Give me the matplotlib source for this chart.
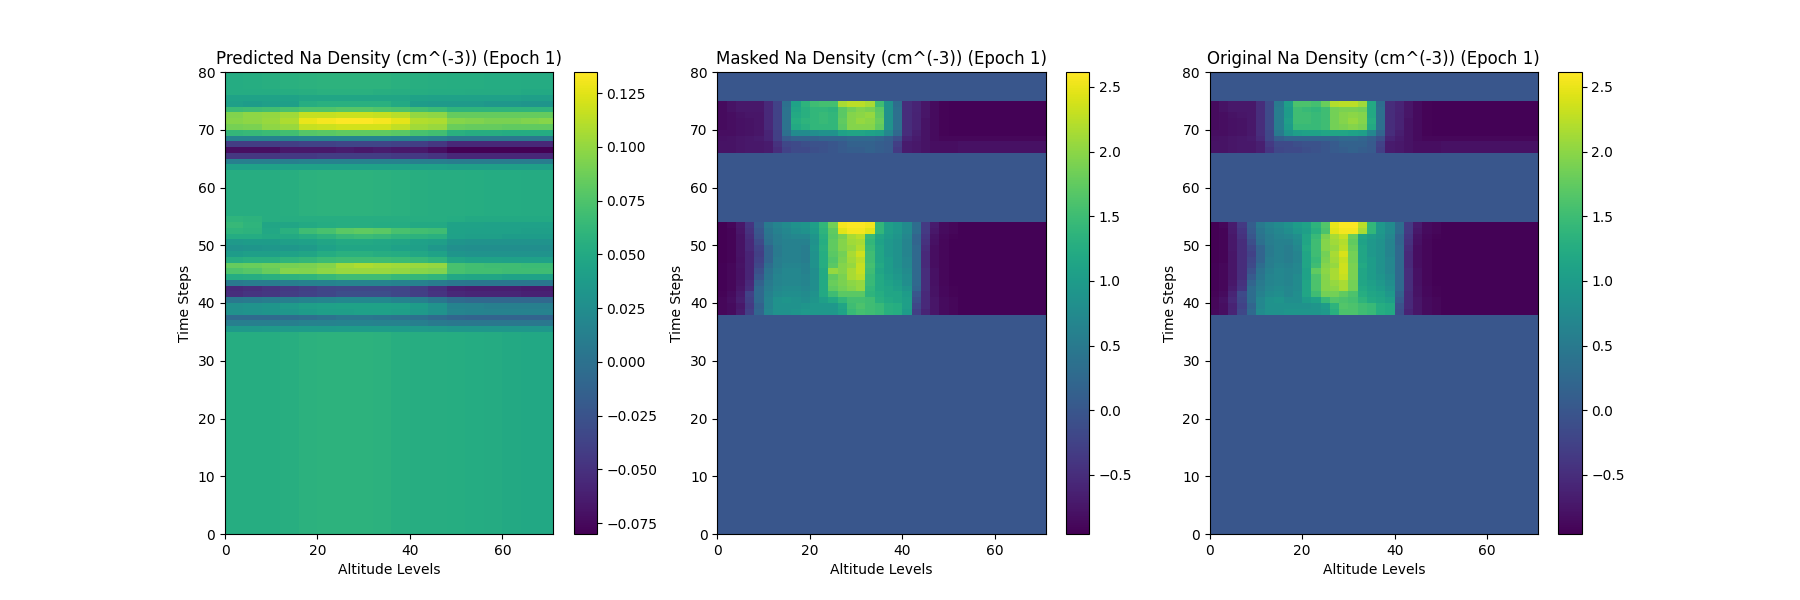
#!/usr/bin/env python3

import numpy as np
import matplotlib
matplotlib.use('Agg')
import matplotlib.pyplot as plt

N_ALT = 71
N_TIME = 80

# predicted panel, read in blocks of 4 altitude levels
pred_background = [.053, .053, .053, .055, .057, .058, .058, .058, .057, .055, .054, .054, .053, .052, .051, .050, .049, .049]
pred_low = [  # time steps 35..54, bottom to top
    [.035, .035, .036, .036, .037, .037, .038, .038, .038, .037, .036, .035, .034, .034, .034, .034, .034, .034],
    [.012, .012, .012, .012, .014, .015, .016, .016, .015, .014, .012, .008, .006, .006, .006, .006, .006, .006],
    [-.006, -.006, -.006, -.004, -.002, .002, .006, .006, .004, .002, .000, -.006, -.010, -.012, -.012, -.012, -.012, -.012],
    [.028, .030, .032, .034, .038, .040, .040, .042, .042, .040, .036, .030, .018, .016, .014, .014, .014, .014],
    [.028, .030, .032, .036, .040, .042, .044, .044, .044, .042, .038, .030, .016, .014, .012, .012, .012, .012],
    [.006, .008, .010, .012, .016, .018, .020, .020, .020, .016, .012, .004, -.006, -.008, -.008, -.008, -.008, -.008],
    [-.052, -.048, -.046, -.042, -.038, -.034, -.030, -.030, -.030, -.034, -.040, -.048, -.056, -.058, -.058, -.058, -.060, -.060],
    [-.054, -.052, -.048, -.044, -.040, -.036, -.034, -.034, -.034, -.036, -.042, -.050, -.060, -.062, -.062, -.062, -.064, -.064],
    [.008, .010, .010, .012, .014, .016, .018, .018, .018, .016, .014, .010, .006, .005, .005, .005, .005, .005],
    [.052, .054, .056, .058, .060, .064, .068, .068, .068, .064, .062, .060, .048, .046, .046, .044, .044, .044],
    [.075, .078, .085, .095, .094, .098, .102, .102, .102, .100, .096, .094, .072, .070, .070, .068, .068, .068],
    [.084, .086, .088, .090, .092, .095, .105, .108, .106, .104, .102, .100, .072, .070, .068, .068, .066, .066],
    [.054, .056, .056, .060, .062, .066, .068, .068, .068, .066, .064, .060, .046, .044, .044, .042, .042, .042],
    [.038, .040, .040, .044, .046, .052, .056, .056, .054, .052, .048, .044, .032, .030, .030, .030, .030, .030],
    [.030, .032, .034, .034, .036, .042, .046, .046, .046, .042, .040, .034, .026, .025, .025, .025, .025, .025],
    [.036, .038, .038, .040, .042, .046, .050, .050, .048, .046, .042, .040, .032, .030, .030, .030, .030, .030],
    [.052, .052, .050, .050, .054, .058, .064, .066, .064, .060, .058, .056, .042, .040, .040, .038, .038, .038],
    [.060, .058, .048, .056, .068, .072, .080, .082, .080, .072, .070, .068, .044, .042, .042, .042, .040, .040],
    [.064, .060, .046, .046, .050, .052, .054, .054, .052, .052, .050, .050, .044, .044, .042, .042, .042, .042],
    [.060, .058, .054, .054, .054, .054, .054, .054, .054, .054, .054, .054, .052, .050, .050, .050, .050, .050],
]
pred_gap = [.054, .054, .054, .055, .057, .058, .058, .058, .057, .056, .055, .054, .054, .053, .052, .052, .051, .051]
pred_high = [  # time steps 63..79, bottom to top
    [.042, .042, .042, .042, .042, .042, .042, .042, .042, .042, .042, .042, .040, .040, .040, .040, .040, .040],
    [.012, .012, .012, .012, .014, .014, .014, .014, .014, .014, .012, .012, .010, .010, .010, .010, .010, .010],
    [-.046, -.046, -.046, -.044, -.044, -.042, -.042, -.042, -.042, -.044, -.044, -.048, -.056, -.056, -.056, -.056, -.056, -.056],
    [-.072, -.072, -.072, -.066, -.066, -.066, -.064, -.066, -.064, -.066, -.066, -.072, -.080, -.080, -.080, -.080, -.080, -.080],
    [-.042, -.042, -.042, -.040, -.038, -.038, -.036, -.036, -.036, -.038, -.040, -.046, -.056, -.056, -.056, -.056, -.056, -.056],
    [.016, .016, .016, .016, .018, .018, .018, .018, .018, .016, .016, .012, .006, .006, .006, .006, .006, .006],
    [.062, .064, .066, .070, .078, .080, .082, .082, .082, .080, .072, .070, .056, .054, .054, .052, .052, .052],
    [.090, .092, .098, .102, .116, .118, .120, .120, .120, .114, .104, .102, .086, .084, .084, .082, .082, .082],
    [.096, .098, .102, .108, .128, .132, .134, .134, .132, .126, .110, .108, .096, .094, .092, .092, .094, .096],
    [.094, .098, .100, .104, .116, .116, .118, .118, .116, .112, .100, .098, .084, .084, .084, .084, .084, .084],
    [.066, .068, .070, .072, .076, .076, .078, .078, .076, .074, .070, .066, .060, .060, .060, .060, .060, .060],
    [.040, .038, .040, .040, .054, .056, .056, .056, .056, .050, .038, .036, .036, .036, .034, .034, .032, .032],
    [.044, .044, .044, .044, .046, .046, .046, .046, .046, .046, .044, .042, .042, .042, .042, .042, .040, .040],
    [.052, .052, .052, .053, .055, .056, .056, .056, .055, .054, .053, .052, .052, .051, .051, .051, .050, .050],
    [.052, .053, .055, .056, .057, .058, .058, .058, .058, .056, .055, .054, .053, .053, .052, .052, .051, .051],
    [.052, .053, .055, .056, .057, .058, .058, .058, .058, .056, .055, .054, .053, .053, .052, .052, .051, .051],
    [.052, .053, .055, .056, .057, .058, .058, .058, .058, .056, .055, .054, .053, .053, .052, .052, .051, .051],
]

# masked panel, read in blocks of 2 altitude levels
masked_low = [  # time steps 38..53, bottom to top
    [-.90, -.85, -.70, -.30, .20, .70, .85, .85, .90, .95, .95, .95, .95, 1.10, 1.45, 1.55, 1.50, 1.45, 1.30, 1.25, 1.00, -.30, -.60, -.75, -.85, -.90, -.93, -.93, -.93, -.93, -.93, -.93, -.93, -.93, -.93, -.93],
    [-.90, -.85, -.72, -.35, .15, .65, .85, .85, .85, .90, .95, .95, .95, 1.15, 1.50, 1.60, 1.50, 1.45, 1.30, 1.25, 1.05, -.20, -.55, -.75, -.85, -.90, -.93, -.93, -.93, -.93, -.93, -.93, -.93, -.93, -.93, -.93],
    [-.90, -.82, -.65, -.30, .25, .65, .85, .90, .85, .80, .90, 1.05, 1.20, 1.40, 1.55, 1.55, 1.50, 1.30, 1.20, 1.15, 1.05, -.10, -.55, -.75, -.85, -.90, -.93, -.93, -.93, -.93, -.93, -.93, -.93, -.93, -.93, -.93],
    [-.92, -.85, -.70, -.25, .25, .60, .75, .80, .80, .75, .85, 1.20, 1.50, 1.70, 1.70, 1.70, 1.35, 1.25, 1.15, 1.15, 1.00, .00, -.55, -.78, -.88, -.92, -.93, -.93, -.93, -.93, -.93, -.93, -.93, -.93, -.93, -.93],
    [-.93, -.90, -.75, -.50, .25, .55, .70, .75, .75, .70, .80, 1.20, 1.75, 1.85, 1.95, 2.05, 1.40, 1.20, 1.15, 1.05, .90, .20, -.50, -.78, -.88, -.92, -.93, -.93, -.93, -.93, -.93, -.93, -.93, -.93, -.93, -.93],
    [-.93, -.90, -.78, -.55, .15, .50, .65, .70, .70, .65, .80, 1.20, 1.80, 1.90, 2.00, 2.05, 1.45, 1.20, 1.10, 1.00, .80, .25, -.50, -.80, -.90, -.93, -.93, -.93, -.93, -.93, -.93, -.93, -.93, -.93, -.93, -.93],
    [-.93, -.90, -.80, -.60, .00, .45, .65, .70, .70, .65, .80, 1.20, 1.75, 1.90, 2.15, 2.25, 1.45, 1.20, 1.05, .95, .80, .25, -.50, -.80, -.90, -.93, -.93, -.93, -.93, -.93, -.93, -.93, -.93, -.93, -.93, -.93],
    [-.93, -.90, -.80, -.60, -.10, .40, .60, .70, .70, .60, .80, 1.20, 2.05, 1.95, 2.15, 2.30, 1.50, 1.15, 1.00, .90, .75, .25, -.50, -.80, -.90, -.93, -.93, -.93, -.93, -.93, -.93, -.93, -.93, -.93, -.93, -.93],
    [-.93, -.90, -.78, -.60, -.20, .30, .55, .65, .65, .60, .85, 1.25, 1.70, 1.95, 2.05, 2.30, 1.55, 1.20, 1.00, .85, .70, .25, -.55, -.82, -.90, -.93, -.93, -.93, -.93, -.93, -.93, -.93, -.93, -.93, -.93, -.93],
    [-.95, -.92, -.80, -.60, -.25, .20, .55, .60, .60, .55, .85, 1.25, 1.65, 1.90, 2.10, 2.25, 1.50, 1.15, 1.00, .85, .70, .25, -.55, -.82, -.90, -.93, -.93, -.93, -.93, -.93, -.93, -.93, -.93, -.93, -.93, -.93],
    [-.95, -.92, -.78, -.60, -.30, .20, .50, .60, .60, .55, .85, 1.25, 1.70, 1.85, 2.15, 2.35, 1.50, 1.15, .95, .85, .65, .25, -.55, -.82, -.90, -.93, -.93, -.93, -.93, -.93, -.93, -.93, -.93, -.93, -.93, -.93],
    [-.95, -.92, -.78, -.55, -.25, .20, .50, .60, .60, .55, .90, 1.30, 1.75, 1.95, 2.05, 2.20, 1.45, 1.15, .95, .85, .65, .25, -.50, -.82, -.90, -.93, -.93, -.93, -.93, -.93, -.93, -.93, -.93, -.93, -.93, -.93],
    [-.95, -.92, -.78, -.55, -.15, .35, .55, .60, .60, .60, .85, 1.25, 1.75, 1.95, 2.10, 2.15, 1.40, 1.10, .95, .85, .65, .20, -.45, -.80, -.90, -.93, -.93, -.93, -.93, -.93, -.93, -.93, -.93, -.93, -.93, -.93],
    [-.95, -.92, -.78, -.50, -.05, .40, .55, .65, .70, .70, .90, 1.30, 1.70, 1.90, 2.15, 2.25, 1.45, 1.15, 1.00, .90, .70, .20, -.40, -.78, -.88, -.92, -.93, -.93, -.93, -.93, -.93, -.93, -.93, -.93, -.93, -.93],
    [-.95, -.92, -.75, -.45, .00, .45, .60, .70, .80, .85, 1.00, 1.35, 1.75, 2.45, 2.55, 2.55, 2.45, 1.40, 1.05, .95, .75, .30, -.35, -.72, -.85, -.90, -.93, -.93, -.93, -.93, -.93, -.93, -.93, -.93, -.93, -.93],
    [-.95, -.90, -.72, -.40, .05, .50, .65, .75, .85, .90, 1.05, 1.40, 1.85, 2.55, 2.60, 2.60, 2.55, 1.40, 1.05, .95, .75, .30, -.35, -.70, -.85, -.90, -.93, -.93, -.93, -.93, -.93, -.93, -.93, -.93, -.93, -.93],
]
masked_high = [  # time steps 66..74, bottom to top
    [-.78, -.78, -.75, -.72, -.72, -.70, -.50, -.25, -.15, -.15, -.10, -.05, .00, .05, .10, .10, .15, .10, .05, -.35, -.70, -.72, -.78, -.82, -.82, -.82, -.80, -.80, -.80, -.80, -.80, -.80, -.80, -.80, -.80, -.80],
    [-.78, -.78, -.75, -.72, -.72, -.70, -.45, -.20, -.15, -.10, -.05, -.05, .00, .05, .15, .15, .15, .10, .05, -.30, -.70, -.72, -.78, -.82, -.82, -.82, -.80, -.80, -.80, -.80, -.80, -.80, -.80, -.80, -.80, -.80],
    [-.80, -.78, -.75, -.72, -.70, -.60, -.30, .05, .15, .15, .15, .20, .20, .20, .25, .25, .25, .20, .10, -.10, -.60, -.70, -.78, -.85, -.90, -.90, -.90, -.90, -.90, -.90, -.90, -.90, -.90, -.90, -.90, -.90],
    [-.82, -.82, -.80, -.78, -.75, -.60, -.30, .35, .75, .75, .80, .85, .85, 1.10, 1.15, 1.15, 1.10, 1.05, .70, .25, -.50, -.65, -.78, -.85, -.92, -.93, -.93, -.93, -.93, -.93, -.93, -.93, -.93, -.93, -.93, -.93],
    [-.85, -.82, -.80, -.78, -.75, -.55, -.25, .40, 1.20, 1.30, 1.40, 1.40, 1.40, 1.70, 1.95, 1.95, 1.95, 1.75, .85, .35, -.50, -.62, -.78, -.85, -.92, -.93, -.93, -.93, -.93, -.93, -.93, -.93, -.93, -.93, -.93, -.93],
    [-.85, -.82, -.80, -.78, -.75, -.55, -.25, .40, 1.25, 1.35, 1.40, 1.45, 1.40, 1.75, 1.95, 2.05, 2.00, 1.80, .85, .35, -.50, -.62, -.78, -.85, -.92, -.93, -.93, -.93, -.93, -.93, -.93, -.93, -.93, -.93, -.93, -.93],
    [-.85, -.82, -.78, -.75, -.75, -.55, -.25, .40, 1.20, 1.30, 1.40, 1.45, 1.40, 1.70, 1.95, 2.00, 2.05, 1.75, .85, .35, -.50, -.62, -.75, -.85, -.92, -.93, -.93, -.93, -.93, -.93, -.93, -.93, -.93, -.93, -.93, -.93],
    [-.85, -.78, -.72, -.72, -.72, -.55, -.25, .40, 1.15, 1.30, 1.40, 1.40, 1.35, 1.70, 1.85, 1.95, 1.90, 1.70, .85, .35, -.50, -.60, -.75, -.85, -.92, -.93, -.93, -.93, -.93, -.93, -.93, -.93, -.93, -.93, -.93, -.93],
    [-.85, -.78, -.72, -.72, -.72, -.55, -.25, .35, 1.10, 1.35, 1.50, 1.55, 1.55, 2.15, 2.25, 2.25, 2.15, 1.50, .85, .30, -.50, -.60, -.75, -.85, -.92, -.93, -.93, -.93, -.93, -.93, -.93, -.93, -.93, -.93, -.93, -.93],
]

# original panel, same blocks
original_low = [  # time steps 38..53, bottom to top
    [-.88, -.82, -.60, -.20, .25, .75, .85, .85, .90, .90, .90, .90, .95, 1.30, 1.60, 1.60, 1.50, 1.45, 1.25, 1.20, -.10, -.60, -.75, -.85, -.90, -.93, -.93, -.93, -.93, -.93, -.93, -.93, -.93, -.93, -.93, -.93],
    [-.90, -.82, -.62, -.25, .20, .70, .85, .85, .85, .85, .85, .90, 1.00, 1.35, 1.65, 1.60, 1.50, 1.45, 1.25, 1.20, -.05, -.55, -.75, -.85, -.90, -.93, -.93, -.93, -.93, -.93, -.93, -.93, -.93, -.93, -.93, -.93],
    [-.90, -.80, -.55, -.20, .30, .70, .85, .90, .80, .80, 1.00, 1.10, 1.45, 1.65, 1.60, 1.55, 1.35, 1.20, 1.15, 1.05, .05, -.55, -.75, -.85, -.90, -.93, -.93, -.93, -.93, -.93, -.93, -.93, -.93, -.93, -.93, -.93],
    [-.92, -.85, -.60, -.15, .30, .60, .75, .80, .70, .80, 1.15, 1.50, 1.85, 1.85, 1.75, 1.60, 1.25, 1.15, 1.10, .95, .15, -.55, -.78, -.88, -.92, -.93, -.93, -.93, -.93, -.93, -.93, -.93, -.93, -.93, -.93, -.93],
    [-.93, -.90, -.68, -.40, .30, .55, .70, .75, .70, .75, 1.15, 1.60, 1.95, 2.00, 2.15, 1.85, 1.20, 1.10, 1.00, .85, .25, -.50, -.78, -.88, -.92, -.93, -.93, -.93, -.93, -.93, -.93, -.93, -.93, -.93, -.93, -.93],
    [-.93, -.90, -.72, -.45, .20, .50, .65, .70, .65, .75, 1.15, 1.60, 1.95, 2.05, 2.15, 1.85, 1.15, 1.05, .95, .80, .25, -.50, -.80, -.90, -.93, -.93, -.93, -.93, -.93, -.93, -.93, -.93, -.93, -.93, -.93, -.93],
    [-.93, -.90, -.75, -.50, .05, .45, .65, .70, .65, .75, 1.10, 1.60, 1.95, 2.15, 2.30, 1.90, 1.15, 1.00, .90, .75, .25, -.50, -.80, -.90, -.93, -.93, -.93, -.93, -.93, -.93, -.93, -.93, -.93, -.93, -.93, -.93],
    [-.93, -.90, -.75, -.50, -.05, .40, .60, .70, .65, .70, 1.10, 1.75, 2.00, 2.15, 2.35, 1.90, 1.15, 1.00, .85, .70, .25, -.50, -.80, -.90, -.93, -.93, -.93, -.93, -.93, -.93, -.93, -.93, -.93, -.93, -.93, -.93],
    [-.93, -.90, -.75, -.50, -.15, .30, .55, .65, .60, .70, 1.15, 1.50, 1.95, 2.05, 2.35, 1.90, 1.20, 1.00, .85, .70, .25, -.55, -.82, -.90, -.93, -.93, -.93, -.93, -.93, -.93, -.93, -.93, -.93, -.93, -.93, -.93],
    [-.95, -.92, -.75, -.50, -.20, .20, .55, .60, .55, .65, 1.15, 1.45, 1.90, 2.10, 2.30, 1.85, 1.15, 1.00, .85, .70, .25, -.55, -.82, -.90, -.93, -.93, -.93, -.93, -.93, -.93, -.93, -.93, -.93, -.93, -.93, -.93],
    [-.95, -.92, -.75, -.50, -.25, .20, .50, .60, .55, .65, 1.15, 1.50, 1.85, 2.15, 2.40, 1.85, 1.15, .95, .85, .65, .25, -.55, -.82, -.90, -.93, -.93, -.93, -.93, -.93, -.93, -.93, -.93, -.93, -.93, -.93, -.93],
    [-.95, -.92, -.72, -.50, -.20, .20, .50, .60, .55, .70, 1.20, 1.50, 1.95, 2.05, 2.25, 1.80, 1.15, .95, .85, .65, .25, -.50, -.82, -.90, -.93, -.93, -.93, -.93, -.93, -.93, -.93, -.93, -.93, -.93, -.93, -.93],
    [-.95, -.92, -.72, -.50, -.10, .35, .55, .60, .60, .75, 1.15, 1.50, 1.95, 2.10, 2.20, 1.75, 1.10, .95, .85, .65, .20, -.45, -.80, -.90, -.93, -.93, -.93, -.93, -.93, -.93, -.93, -.93, -.93, -.93, -.93, -.93],
    [-.95, -.92, -.72, -.45, .00, .40, .55, .65, .70, .80, 1.15, 1.45, 1.90, 2.15, 2.30, 1.80, 1.15, 1.00, .90, .70, .20, -.40, -.78, -.88, -.92, -.93, -.93, -.93, -.93, -.93, -.93, -.93, -.93, -.93, -.93, -.93],
    [-.95, -.92, -.70, -.40, .05, .45, .60, .70, .80, .95, 1.05, 1.30, 1.60, 2.45, 2.55, 2.55, 2.15, 1.40, .95, .75, .30, -.35, -.72, -.85, -.90, -.93, -.93, -.93, -.93, -.93, -.93, -.93, -.93, -.93, -.93, -.93],
    [-.95, -.90, -.68, -.35, .10, .50, .65, .75, .85, 1.00, 1.10, 1.35, 1.65, 2.50, 2.60, 2.60, 2.25, 1.40, .95, .75, .30, -.35, -.70, -.85, -.90, -.93, -.93, -.93, -.93, -.93, -.93, -.93, -.93, -.93, -.93, -.93],
]
original_high = [  # time steps 66..74, bottom to top
    [-.78, -.78, -.75, -.72, -.72, -.65, -.40, -.20, -.15, -.15, -.10, -.05, .00, .05, .10, .15, .10, .05, -.30, -.70, -.72, -.78, -.82, -.82, -.82, -.80, -.80, -.80, -.80, -.80, -.80, -.80, -.80, -.80, -.80, -.80],
    [-.78, -.78, -.75, -.72, -.72, -.65, -.35, -.15, -.15, -.10, -.05, -.05, .00, .05, .15, .15, .15, .05, -.25, -.70, -.72, -.78, -.82, -.82, -.82, -.80, -.80, -.80, -.80, -.80, -.80, -.80, -.80, -.80, -.80, -.80],
    [-.80, -.78, -.75, -.72, -.70, -.55, -.20, .10, .20, .20, .20, .20, .20, .20, .25, .25, .20, .10, -.10, -.60, -.70, -.78, -.85, -.90, -.90, -.90, -.90, -.90, -.90, -.90, -.90, -.90, -.90, -.90, -.90, -.90],
    [-.82, -.82, -.80, -.78, -.72, -.50, -.20, .50, .90, 1.05, 1.10, 1.10, 1.15, 1.15, 1.15, 1.10, 1.05, .70, .20, -.50, -.65, -.78, -.85, -.92, -.93, -.93, -.93, -.93, -.93, -.93, -.93, -.93, -.93, -.93, -.93, -.93],
    [-.85, -.82, -.80, -.78, -.72, -.50, -.15, .55, 1.00, 1.45, 1.45, 1.45, 1.50, 1.85, 1.90, 1.95, 1.90, 1.20, .35, -.50, -.62, -.78, -.85, -.92, -.93, -.93, -.93, -.93, -.93, -.93, -.93, -.93, -.93, -.93, -.93, -.93],
    [-.85, -.82, -.80, -.78, -.72, -.50, -.15, .55, 1.05, 1.50, 1.50, 1.45, 1.50, 1.85, 1.95, 2.05, 1.95, 1.25, .35, -.50, -.62, -.78, -.85, -.92, -.93, -.93, -.93, -.93, -.93, -.93, -.93, -.93, -.93, -.93, -.93, -.93],
    [-.85, -.82, -.78, -.75, -.72, -.50, -.15, .55, 1.00, 1.50, 1.50, 1.45, 1.50, 1.85, 1.95, 2.00, 1.95, 1.20, .35, -.50, -.62, -.75, -.85, -.92, -.93, -.93, -.93, -.93, -.93, -.93, -.93, -.93, -.93, -.93, -.93, -.93],
    [-.85, -.78, -.72, -.72, -.72, -.50, -.15, .55, 1.00, 1.50, 1.45, 1.40, 1.50, 1.85, 1.90, 1.90, 1.85, 1.20, .35, -.50, -.60, -.75, -.85, -.92, -.93, -.93, -.93, -.93, -.93, -.93, -.93, -.93, -.93, -.93, -.93, -.93],
    [-.85, -.78, -.72, -.72, -.72, -.50, -.15, .50, 1.05, 1.60, 1.60, 1.55, 1.80, 2.20, 2.25, 2.25, 2.10, 1.20, .30, -.50, -.60, -.75, -.85, -.92, -.93, -.93, -.93, -.93, -.93, -.93, -.93, -.93, -.93, -.93, -.93, -.93],
]


def masked_grid(low, high):
    grid = np.zeros((N_TIME, 36))
    grid[38:54] = low
    grid[66:75] = high
    return grid


pred = np.zeros((N_TIME, 18))
pred[:35] = pred_background
pred[35:55] = pred_low
pred[55:63] = pred_gap
pred[63:80] = pred_high

y_edges = np.arange(N_TIME + 1)
x_fine = np.append(np.arange(0, N_ALT, 2), N_ALT)
x_coarse = np.append(np.arange(0, N_ALT, 4), N_ALT)

panels = [
    ('Predicted', x_coarse, pred, -0.0800, 0.1348),
    ('Masked', x_fine, masked_grid(masked_low, masked_high), -0.957, 2.616),
    ('Original', x_fine, masked_grid(original_low, original_high), -0.957, 2.616),
]

fig, axes = plt.subplots(1, 3, figsize=(18, 6))
for ax, (name, x_edges, grid, lo, hi) in zip(axes, panels):
    mesh = ax.pcolormesh(x_edges, y_edges, grid, cmap='viridis', vmin=lo, vmax=hi)
    ax.set_title(f'{name} Na Density (cm^(-3)) (Epoch 1)')
    ax.set_xlabel('Altitude Levels')
    ax.set_ylabel('Time Steps')
    fig.colorbar(mesh, ax=ax)

plt.savefig('out.png', dpi=100)
